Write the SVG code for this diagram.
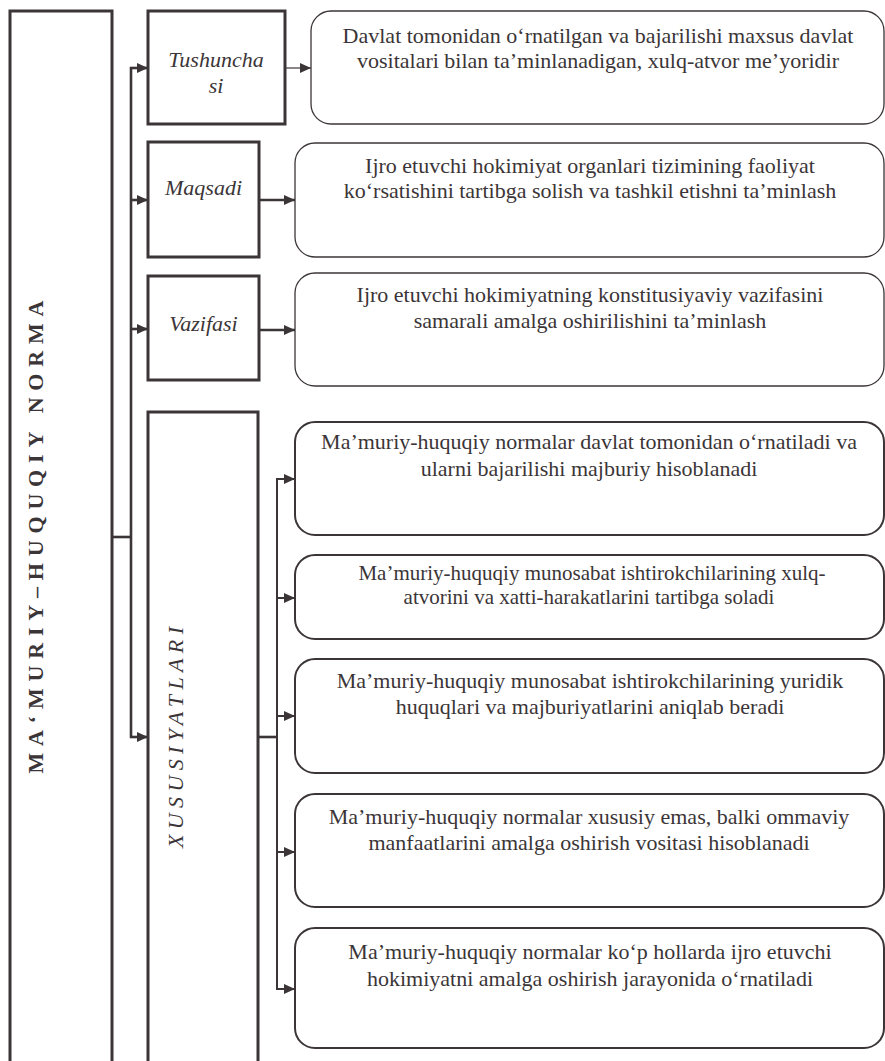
<svg xmlns="http://www.w3.org/2000/svg" width="885" height="1061" viewBox="0 0 885 1061" font-family="Liberation Serif">
<defs>
<style>
.frame{fill:none;stroke:#3b3537;stroke-width:3}
.rbox{fill:#fff;stroke:#3b3537;stroke-width:1.3}
.xbox{fill:#fff;stroke:#3b3537;stroke-width:2}
text{font-family:"Liberation Serif","Times New Roman",serif;font-size:22px;fill:#3b3537;text-anchor:middle}
.it{font-style:italic}
.vb{font-weight:bold}
.sm{font-size:21px}
.ln{fill:none;stroke:#3b3537}
</style>
<marker id="ah" markerUnits="userSpaceOnUse" markerWidth="12" markerHeight="10" refX="11" refY="5" orient="auto">
<path d="M0,0 L11,5 L0,10 Z" fill="#3b3537"/>
</marker>
</defs>
<rect width="885" height="1061" fill="#fff"/>

<g id="connectors">
<line class="ln" x1="112" y1="537" x2="131" y2="537" stroke-width="2.6"/>
<line class="ln" x1="131" y1="67" x2="131" y2="738" stroke-width="2.6"/>
<line class="ln" x1="130" y1="68" x2="148" y2="68" stroke-width="2.6" marker-end="url(#ah)"/>
<line class="ln" x1="130" y1="200" x2="148" y2="200" stroke-width="2.6" marker-end="url(#ah)"/>
<line class="ln" x1="130" y1="329" x2="148" y2="329" stroke-width="2.6" marker-end="url(#ah)"/>
<line class="ln" x1="130" y1="737" x2="148" y2="737" stroke-width="2.6" marker-end="url(#ah)"/>
<line class="ln" x1="285" y1="68" x2="311" y2="68" stroke-width="1.2" marker-end="url(#ah)"/>
<line class="ln" x1="259" y1="200" x2="295" y2="200" stroke-width="2.6" marker-end="url(#ah)"/>
<line class="ln" x1="259" y1="330" x2="295" y2="330" stroke-width="2.6" marker-end="url(#ah)"/>
<line class="ln" x1="258" y1="737" x2="277" y2="737" stroke-width="2.6"/>
<line class="ln" x1="277" y1="478" x2="277" y2="990" stroke-width="2"/>
<line class="ln" x1="276" y1="479" x2="295" y2="479" stroke-width="2" marker-end="url(#ah)"/>
<line class="ln" x1="276" y1="598" x2="295" y2="598" stroke-width="2" marker-end="url(#ah)"/>
<line class="ln" x1="276" y1="716" x2="295" y2="716" stroke-width="2" marker-end="url(#ah)"/>
<line class="ln" x1="276" y1="852" x2="295" y2="852" stroke-width="2" marker-end="url(#ah)"/>
<line class="ln" x1="276" y1="989" x2="295" y2="989" stroke-width="2" marker-end="url(#ah)"/>
</g>

<g id="root">
<rect class="frame" x="10" y="11" width="102" height="1070"/>
<text class="vb" transform="translate(43,537) rotate(-90)" textLength="473" lengthAdjust="spacing">MA‘MURIY–HUQUQIY  NORMA</text>
</g>

<g id="tushunchasi">
<rect class="frame" x="148" y="11" width="137" height="113"/>
<text class="it" x="216" y="67">Tushuncha</text>
<text class="it" x="216" y="93">si</text>
</g>

<g id="maqsadi">
<rect class="frame" x="148" y="142" width="111" height="115"/>
<text class="it" x="203.5" y="195">Maqsadi</text>
</g>

<g id="vazifasi">
<rect class="frame" x="148" y="276" width="111" height="104"/>
<text class="it" x="203.5" y="331">Vazifasi</text>
</g>

<g id="xususiyatlari">
<rect class="frame" x="148" y="412" width="110" height="670"/>
<text class="it" transform="translate(183,737.5) rotate(-90)" textLength="221" lengthAdjust="spacing">XUSUSIYATLARI</text>
</g>

<g id="desc-tushuncha">
<rect class="rbox" x="311" y="11" width="573" height="113" rx="20"/>
<text x="598" y="43">Davlat tomonidan o‘rnatilgan va bajarilishi maxsus davlat</text>
<text x="598" y="68">vositalari bilan ta’minlanadigan, xulq-atvor me’yoridir</text>
</g>

<g id="desc-maqsad">
<rect class="rbox" x="295" y="143" width="589" height="114" rx="20"/>
<text x="590" y="173">Ijro etuvchi hokimiyat organlari tizimining faoliyat</text>
<text x="590" y="198">ko‘rsatishini tartibga solish va tashkil etishni ta’minlash</text>
</g>

<g id="desc-vazifa">
<rect class="rbox" x="295" y="273" width="589" height="113" rx="20"/>
<text x="590" y="302">Ijro etuvchi hokimiyatning konstitusiyaviy vazifasini</text>
<text x="590" y="328">samarali amalga oshirilishini ta’minlash</text>
</g>

<g id="xus-1">
<rect class="xbox" x="295" y="422" width="589" height="113" rx="20"/>
<text x="589" y="449">Ma’muriy-huquqiy normalar davlat tomonidan o‘rnatiladi va</text>
<text x="589" y="476">ularni bajarilishi majburiy hisoblanadi</text>
</g>

<g id="xus-2">
<rect class="xbox" x="295" y="555" width="589" height="84" rx="20"/>
<text class="sm" x="592" y="580">Ma’muriy-huquqiy munosabat ishtirokchilarining xulq-</text>
<text class="sm" x="589" y="604">atvorini va xatti-harakatlarini tartibga soladi</text>
</g>

<g id="xus-3">
<rect class="xbox" x="295" y="659" width="589" height="114" rx="20"/>
<text x="590" y="688">Ma’muriy-huquqiy munosabat ishtirokchilarining yuridik</text>
<text x="590" y="714">huquqlari va majburiyatlarini aniqlab beradi</text>
</g>

<g id="xus-4">
<rect class="xbox" x="295" y="794" width="589" height="113" rx="20"/>
<text x="589" y="824">Ma’muriy-huquqiy normalar xususiy emas, balki ommaviy</text>
<text x="589" y="850">manfaatlarini amalga oshirish vositasi hisoblanadi</text>
</g>

<g id="xus-5">
<rect class="xbox" x="295" y="928" width="589" height="120" rx="20"/>
<text x="590" y="959">Ma’muriy-huquqiy normalar ko‘p hollarda ijro etuvchi</text>
<text x="590" y="986">hokimiyatni amalga oshirish jarayonida o‘rnatiladi</text>
</g>
</svg>
